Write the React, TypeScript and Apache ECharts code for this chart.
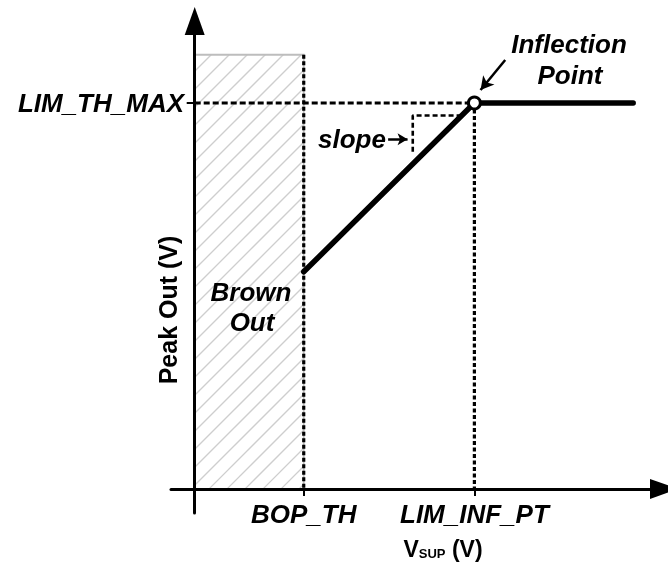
import React, { useEffect, useRef } from "react";
import * as echarts from "echarts";

// ---- data ----
const xTickValues = [2.3, 5.9];
const xTickLabels = ["BOP_TH", "LIM_INF_PT"];
const yTickValues = [8];
const yTickLabels = ["LIM_TH_MAX"];

const peakX = [2.3, 5.9, 9.25];
const peakY = [4.5, 8, 8];
const inflectionIndex = 1;

// brown-out region: [xStart, xEnd, yTop]
const brownOutRegion = [0, 2.3, 9];

const dashLimTh = [[0, 8], [5.9, 8]];
const dashBop = [[2.3, 9], [2.3, 0]];
const dashInf = [[5.9, 8], [5.9, 0]];
const slopeBox = [[5.63, 7.74], [4.6, 7.74], [4.6, 6.94]];
const slopeArrow = [[4.08, 7.25], [4.49, 7.25]];
const inflArrow = [[6.55, 8.89], [6.03, 8.27]];

const X_MIN = -0.5, X_MAX = 9.9, Y_MIN = -0.5, Y_MAX = 9.7;

const FONT = "'Liberation Sans', Arial, Helvetica, sans-serif";

function labelFor(v: number, values: number[], labels: string[]) {
  for (let i = 0; i < values.length; i++) {
    if (Math.abs(values[i] - v) < 1e-6) return labels[i];
  }
  return "";
}

export default function App() {
  const ref = useRef<HTMLDivElement>(null);

  useEffect(() => {
    if (!ref.current) return;
    const chart = echarts.init(ref.current, null, { renderer: "svg" });

    const dashSeries = (data: number[][], width: number, dash: number[]) => ({
      type: "line",
      data,
      symbol: "none",
      silent: true,
      lineStyle: { color: "#000", width, type: dash as any },
      z: 3,
    });

    const arrowSeries = (pts: number[][], size: number[], width: number) => ({
      type: "line",
      data: [],
      silent: true,
      markLine: {
        silent: true,
        symbol: ["none", "arrow"],
        symbolSize: size,
        label: { show: false },
        lineStyle: { color: "#000", width, type: "solid" },
        emphasis: { disabled: true },
        data: [[{ coord: pts[0] }, { coord: pts[1] }]],
      },
    });

    const option: any = {
      animation: false,
      grid: { left: 171, right: 4, top: 21, bottom: 53, containLabel: false, outerBoundsMode: "none" },
      xAxis: {
        type: "value",
        min: X_MIN,
        max: X_MAX,
        splitLine: { show: false },
        axisLine: {
          onZero: true,
          lineStyle: { color: "#000", width: 3 },
          symbol: ["none", "triangle"],
          symbolSize: [20, 28],
        },
        axisTick: { show: true, customValues: xTickValues, length: 7, lineStyle: { color: "#000", width: 2 } },
        axisLabel: {
          customValues: xTickValues,
          formatter: (v: number) => labelFor(v, xTickValues, xTickLabels),
          fontSize: 26,
          fontWeight: "bold",
          fontStyle: "italic",
          fontFamily: FONT,
          color: "#000",
          margin: -12,
        },
      },
      yAxis: {
        type: "value",
        min: Y_MIN,
        max: Y_MAX,
        splitLine: { show: false },
        axisLine: {
          onZero: true,
          lineStyle: { color: "#000", width: 3 },
          symbol: ["none", "triangle"],
          symbolSize: [20, 28],
        },
        axisTick: { show: true, customValues: yTickValues, length: 8, lineStyle: { color: "#000", width: 2 } },
        axisLabel: {
          customValues: yTickValues,
          formatter: (v: number) => labelFor(v, yTickValues, yTickLabels),
          fontSize: 26,
          fontWeight: "bold",
          fontStyle: "italic",
          fontFamily: FONT,
          color: "#000",
          margin: -13,
        },
      },
      series: [
        {
          type: "custom",
          z: -1,
          silent: true,
          data: [brownOutRegion],
          renderItem: (params: any, api: any) => {
            const p0 = api.coord([api.value(0), api.value(2)]);
            const p1 = api.coord([api.value(1), 0]);
            const L = p0[0], T = p0[1], R = p1[0], B = p1[1];
            const children: any[] = [];
            const step = 18;
            let c = L + T;
            c = c - (c % step) + 14;
            for (; c < R + B + step; c += step) {
              const xa = Math.max(L, c - B);
              const xb = Math.min(R, c - T);
              if (xb <= xa) continue;
              children.push({
                type: "line",
                shape: { x1: xa, y1: c - xa, x2: xb, y2: c - xb },
                style: { stroke: "#cecece", lineWidth: 1.3 },
              });
            }
            children.push({
              type: "rect",
              shape: { x: L, y: T, width: R - L, height: B - T },
              style: { fill: "none", stroke: "#bdbdbd", lineWidth: 1.8 },
            });
            return { type: "group", children };
          },
        },
        dashSeries(dashLimTh, 3, [6, 3]),
        dashSeries(dashBop, 3.2, [4, 2.5]),
        dashSeries(dashInf, 3.2, [4, 2.5]),
        dashSeries(slopeBox, 2.6, [5, 3]),
        {
          type: "line",
          z: 5,
          silent: true,
          symbol: "none",
          lineStyle: { color: "#000", width: 5.5, cap: "round" },
          data: peakX.map((x, i) =>
            i === inflectionIndex
              ? {
                  value: [x, peakY[i]],
                  symbol: "circle",
                  symbolSize: 12,
                  itemStyle: { color: "#fff", borderColor: "#000", borderWidth: 3 },
                }
              : { value: [x, peakY[i]], symbol: "none" }
          ),
        },
        arrowSeries(slopeArrow, [9, 10], 2.5),
        arrowSeries(inflArrow, [11, 13], 2.5),
      ],
      graphic: [
        {
          type: "text",
          x: 569,
          y: 44,
          style: { text: "Inflection", font: `italic bold 26px ${FONT}`, fill: "#000", align: "center", verticalAlign: "middle" },
        },
        {
          type: "text",
          x: 570,
          y: 75,
          style: { text: "Point", font: `italic bold 26px ${FONT}`, fill: "#000", align: "center", verticalAlign: "middle" },
        },
        {
          type: "text",
          x: 352,
          y: 139,
          style: { text: "slope", font: `italic bold 26px ${FONT}`, fill: "#000", align: "center", verticalAlign: "middle" },
        },
        {
          type: "text",
          x: 251,
          y: 292,
          style: { text: "Brown", font: `italic bold 26px ${FONT}`, fill: "#000", align: "center", verticalAlign: "middle" },
        },
        {
          type: "text",
          x: 252,
          y: 322,
          style: { text: "Out", font: `italic bold 26px ${FONT}`, fill: "#000", align: "center", verticalAlign: "middle" },
        },
        {
          type: "text",
          x: 168,
          y: 310,
          rotation: Math.PI / 2,
          style: { text: "Peak Out (V)", font: `bold 25px ${FONT}`, fill: "#000", align: "center", verticalAlign: "middle" },
        },
        {
          type: "text",
          x: 443,
          y: 547,
          style: {
            text: "{v|V}{s|SUP}{v| (V)}",
            align: "center",
            verticalAlign: "middle",
            rich: {
              v: { font: `bold 23px ${FONT}`, fill: "#000", lineHeight: 26, verticalAlign: "bottom" },
              s: { font: `bold 13px ${FONT}`, fill: "#000", lineHeight: 26, verticalAlign: "bottom" },
            },
          },
        },
      ],
    };

    chart.setOption(option);
    return () => chart.dispose();
  }, []);

  return <div ref={ref} style={{ position: "fixed", left: 0, top: 0, width: 668, height: 566 }} />;
}
